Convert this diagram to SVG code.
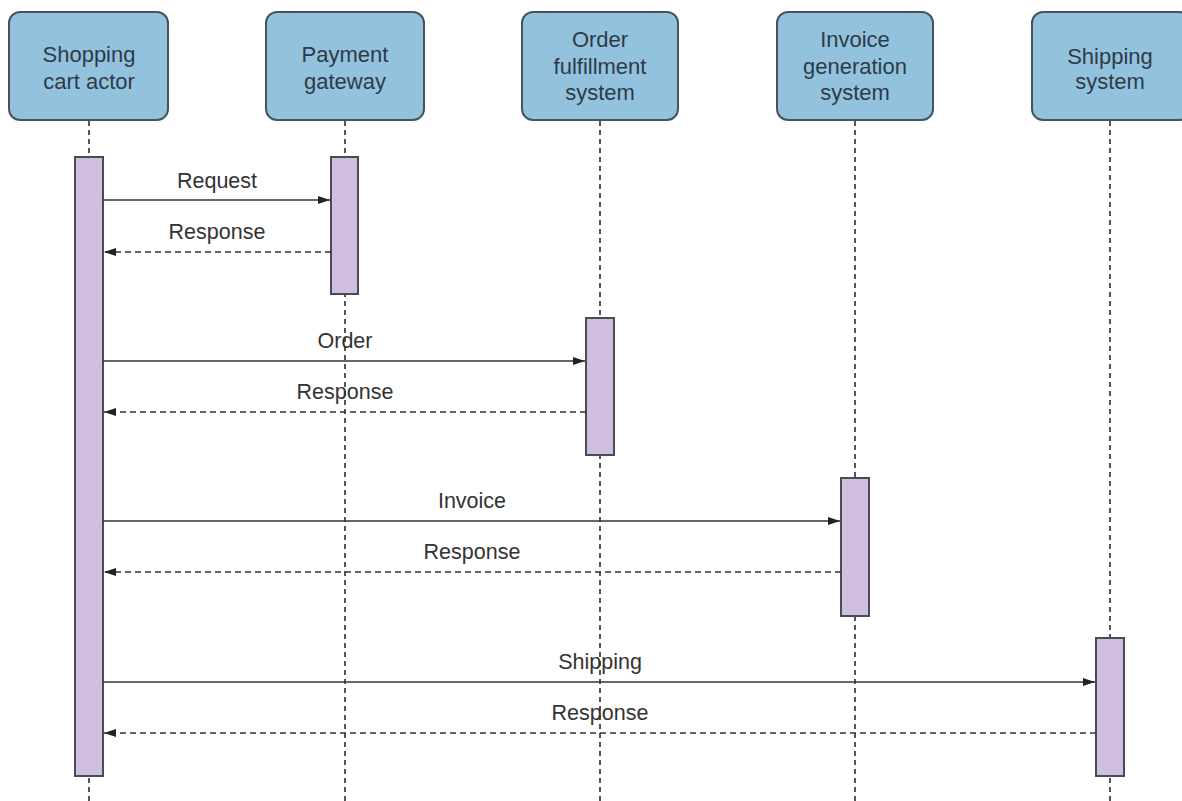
<svg xmlns="http://www.w3.org/2000/svg" width="1182" height="801" viewBox="0 0 1182 801">
  <defs>
    <style>
      .actor { fill: #93c2df; stroke: #47545f; stroke-width: 2; }
      .actor-text { font-family: "Liberation Sans", Arial, sans-serif; font-size: 22px; fill: #2e3b47; text-anchor: middle; }
      .lifeline { stroke: #555; stroke-width: 2; stroke-dasharray: 5 4; fill: none; }
      .activation { fill: #cfbee0; stroke: #4a4a52; stroke-width: 2; }
      .msg { stroke: #333; stroke-width: 1.6; fill: none; marker-end: url(#head); }
      .reply { stroke: #333; stroke-width: 1.6; fill: none; stroke-dasharray: 6 4; marker-end: url(#head); }
      .label { font-family: "Liberation Sans", Arial, sans-serif; font-size: 21.5px; fill: #333; text-anchor: middle; }
    </style>
    <marker id="head" viewBox="0 0 12 10" refX="12" refY="5" markerWidth="12" markerHeight="10" markerUnits="userSpaceOnUse" orient="auto">
      <path d="M0,1 L12,5 L0,9 Z" fill="#222"/>
    </marker>
  </defs>
  <rect width="1182" height="801" fill="#ffffff"/>

  <!-- lifelines -->
  <g id="lifelines">
    <line class="lifeline" x1="89" y1="121" x2="89" y2="801"/>
    <line class="lifeline" x1="345" y1="121" x2="345" y2="801"/>
    <line class="lifeline" x1="600" y1="121" x2="600" y2="801"/>
    <line class="lifeline" x1="855" y1="121" x2="855" y2="801"/>
    <line class="lifeline" x1="1110" y1="121" x2="1110" y2="801"/>
  </g>

  <!-- actors -->
  <g id="shopping-cart-actor">
    <rect class="actor" x="9" y="12" width="159" height="108" rx="11"/>
    <text class="actor-text" x="89" y="62">Shopping</text>
    <text class="actor-text" x="89" y="89">cart actor</text>
    <rect class="activation" x="75" y="157" width="28" height="619"/>
  </g>
  <g id="payment-gateway">
    <rect class="actor" x="266" y="12" width="158" height="108" rx="11"/>
    <text class="actor-text" x="345" y="62">Payment</text>
    <text class="actor-text" x="345" y="89">gateway</text>
    <rect class="activation" x="331" y="157" width="27" height="137"/>
  </g>
  <g id="order-fulfillment-system">
    <rect class="actor" x="522" y="12" width="156" height="108" rx="11"/>
    <text class="actor-text" x="600" y="47">Order</text>
    <text class="actor-text" x="600" y="74">fulfillment</text>
    <text class="actor-text" x="600" y="100">system</text>
    <rect class="activation" x="586" y="318" width="28" height="137"/>
  </g>
  <g id="invoice-generation-system">
    <rect class="actor" x="777" y="12" width="156" height="108" rx="11"/>
    <text class="actor-text" x="855" y="47">Invoice</text>
    <text class="actor-text" x="855" y="74">generation</text>
    <text class="actor-text" x="855" y="100">system</text>
    <rect class="activation" x="841" y="478" width="28" height="138"/>
  </g>
  <g id="shipping-system">
    <rect class="actor" x="1032" y="12" width="158" height="108" rx="11"/>
    <text class="actor-text" x="1110" y="64">Shipping</text>
    <text class="actor-text" x="1110" y="89">system</text>
    <rect class="activation" x="1096" y="638" width="28" height="138"/>
  </g>

  <!-- messages -->
  <g id="connectors">
    <line class="msg" x1="103" y1="200" x2="330" y2="200"/>
    <line class="reply" x1="331" y1="252" x2="104" y2="252"/>
    <line class="msg" x1="103" y1="361" x2="585" y2="361"/>
    <line class="reply" x1="586" y1="412" x2="104" y2="412"/>
    <line class="msg" x1="103" y1="521" x2="840" y2="521"/>
    <line class="reply" x1="841" y1="572" x2="104" y2="572"/>
    <line class="msg" x1="103" y1="682" x2="1095" y2="682"/>
    <line class="reply" x1="1096" y1="733" x2="104" y2="733"/>
  </g>

  <g id="message-labels">
    <text class="label" x="217" y="188">Request</text>
    <text class="label" x="217" y="239">Response</text>
    <text class="label" x="345" y="348">Order</text>
    <text class="label" x="345" y="399">Response</text>
    <text class="label" x="472" y="508">Invoice</text>
    <text class="label" x="472" y="559">Response</text>
    <text class="label" x="600" y="669">Shipping</text>
    <text class="label" x="600" y="720">Response</text>
  </g>
</svg>
